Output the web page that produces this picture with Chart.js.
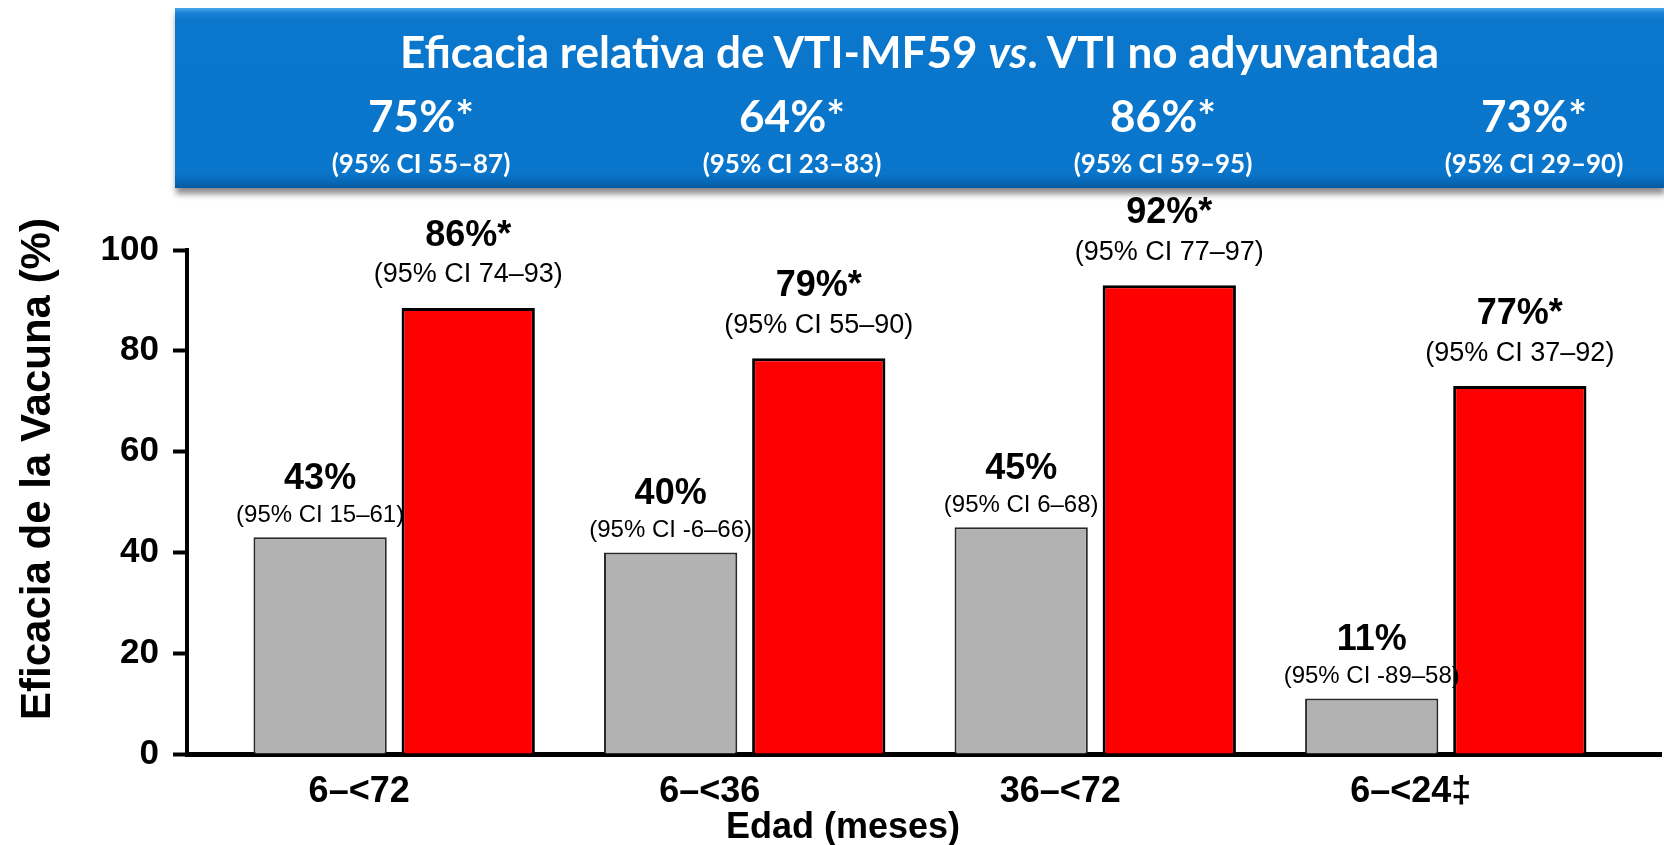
<!DOCTYPE html>
<html>
<head>
<meta charset="utf-8">
<script src="https://cdn.jsdelivr.net/npm/chart.js@4.4.1/dist/chart.umd.min.js"></script>
<style>
  html, body { margin: 0; padding: 0; background: #ffffff; }
  #wrap { position: relative; width: 1664px; height: 845px; overflow: hidden; }
  #c { position: absolute; left: 0; top: 0; }
  #hdr {
    position: absolute; left: 175px; top: 8px; width: 1489px; height: 180px;
    background: linear-gradient(to bottom, #4aa6ea 0px, #1a82d6 5px, #0a77cc 12px, #0a76cb 165px, #0866b4 175px, #06589c 180px);
    box-shadow: 1px 6px 6px rgba(0,0,0,0.45);
    font-family: Lato, "Open Sans", sans-serif; color: #ffffff; font-weight: bold;
  }
  .t { position: absolute; transform: translate(-50%, -50%); white-space: nowrap; line-height: 1; }
</style>
</head>
<body>
<div id="wrap">
  <canvas id="c" width="1664" height="845"></canvas>
  <div id="hdr"></div>
</div>
<script>
// ---------- data ----------
const categories = ['6–<72', '6–<36', '36–<72', '6–<24‡'];
// VTI no adyuvantada (grey bars)
const vtiValues = [43, 40, 45, 11];
const vtiLabels = ['43%', '40%', '45%', '11%'];
const vtiCI = ['15–61', '-6–66', '6–68', '-89–58'];
// VTI-MF59 (red bars, heights as drawn)
const mf59Values = [88.5, 78.5, 93, 73];
const mf59Labels = ['86%*', '79%*', '92%*', '77%*'];
const mf59CI = ['74–93', '55–90', '77–97', '37–92'];
// Eficacia relativa (header)
const relValues = ['75%*', '64%*', '86%*', '73%*'];
const relCI = ['55–87', '23–83', '59–95', '29–90'];
const yTickStep = 20;
const yMin = 0, yMax = 100;

// ---------- header ----------
const hdr = document.getElementById('hdr');
const title = document.createElement('div');
title.className = 't';
title.style.left = '50%'; title.style.top = '43px'; title.style.fontSize = '44px';
title.innerHTML = 'Eficacia relativa de VTI-MF59 <i>vs</i>. VTI no adyuvantada';
hdr.appendChild(title);
relValues.forEach((v, i) => {
  const x = 246 + i * 371;
  const a = document.createElement('div');
  a.className = 't'; a.style.left = x + 'px'; a.style.top = '107px'; a.style.fontSize = '44px';
  a.textContent = v; hdr.appendChild(a);
  const b = document.createElement('div');
  b.className = 't'; b.style.left = x + 'px'; b.style.top = '155px'; b.style.fontSize = '26px';
  b.textContent = '(95% CI ' + relCI[i] + ')'; hdr.appendChild(b);
});

// ---------- chart ----------
const FONT = '"Liberation Sans", Arial, Helvetica, sans-serif';
Chart.defaults.font.family = FONT;
Chart.defaults.color = '#000000';

const idx = categories.map((c, i) => i);

const barLabels = {
  id: 'barLabels',
  afterDatasetsDraw(chart) {
    const ctx = chart.ctx;
    chart.data.datasets.forEach((ds, di) => {
      const meta = chart.getDatasetMeta(di);
      const st = ds.labelStyle;
      meta.data.forEach((bar, i) => {
        ctx.save();
        ctx.fillStyle = '#000000';
        ctx.textAlign = 'center';
        ctx.textBaseline = 'middle';
        ctx.font = 'bold 36px ' + FONT;
        ctx.fillText(ds.valueLabels[i], bar.x, bar.y - st.bold);
        ctx.font = st.ciSize + 'px ' + FONT;
        ctx.fillText('(95% CI ' + ds.ci[i] + ')', bar.x, bar.y - st.ci);
        ctx.restore();
      });
    });
  }
};

const axisTitles = {
  id: 'axisTitles',
  afterDraw(chart) {
    const ctx = chart.ctx;
    ctx.save();
    ctx.fillStyle = '#000000';
    ctx.textAlign = 'center';
    ctx.textBaseline = 'middle';
    ctx.font = 'bold 36px ' + FONT;
    ctx.fillText('Edad (meses)', 843, 828);
    ctx.translate(38, 469);
    ctx.rotate(-Math.PI / 2);
    ctx.font = 'bold 42px ' + FONT;
    ctx.fillText('Eficacia de la Vacuna (%)', 0, 0);
    ctx.restore();
  }
};

new Chart(document.getElementById('c'), {
  type: 'bar',
  data: {
    datasets: [
      {
        label: 'VTI no adyuvantada',
        data: idx.map(i => ({ x: i, y: vtiValues[i] })),
        valueLabels: vtiLabels,
        ci: vtiCI,
        labelStyle: { bold: 58, ci: 22, ciSize: 24 },
        backgroundColor: '#b2b2b2',
        borderColor: '#2a2a2a',
        borderWidth: 2,
        categoryPercentage: 0.845,
        barPercentage: 0.9
      },
      {
        label: 'VTI-MF59',
        data: idx.map(i => ({ x: i, y: mf59Values[i] })),
        valueLabels: mf59Labels,
        ci: mf59CI,
        labelStyle: { bold: 72, ci: 33, ciSize: 27 },
        backgroundColor: '#ff0000',
        borderColor: '#000000',
        borderWidth: 3,
        categoryPercentage: 0.845,
        barPercentage: 0.9
      }
    ]
  },
  options: {
    responsive: false,
    animation: false,
    devicePixelRatio: 1,
    layout: { padding: { top: 250, right: 3, left: 0, bottom: 0 } },
    plugins: { legend: { display: false }, tooltip: { enabled: false } },
    scales: {
      x: {
        type: 'linear',
        offset: false,
        min: -0.591,
        max: 3.614,
        grid: { display: false, offset: false, drawTicks: false, tickLength: 0 },
        border: { display: true, color: '#000000', width: 5 },
        ticks: {
          stepSize: 1,
          includeBounds: false,
          autoSkip: false,
          maxRotation: 0,
          labelOffset: -35,
          padding: 16,
          font: { size: 36, weight: 'bold' },
          color: '#000000',
          callback: (v) => (Number.isInteger(v) && categories[v] !== undefined) ? categories[v] : ''
        },
        afterFit: (s) => { s.height = 91; s.paddingLeft = 0; s.paddingRight = 0; }
      },
      y: {
        min: yMin,
        max: yMax,
        grid: { display: true, drawOnChartArea: false, drawTicks: true, tickLength: 14, tickWidth: 4, tickColor: '#000000', color: '#000000' },
        border: { display: true, color: '#000000', width: 4 },
        ticks: {
          stepSize: yTickStep,
          padding: 14,
          font: { size: 35, weight: 'bold' },
          color: '#000000'
        },
        afterFit: (s) => { s.width = 187; }
      }
    }
  },
  plugins: [barLabels, axisTitles]
});
</script>
</body>
</html>
